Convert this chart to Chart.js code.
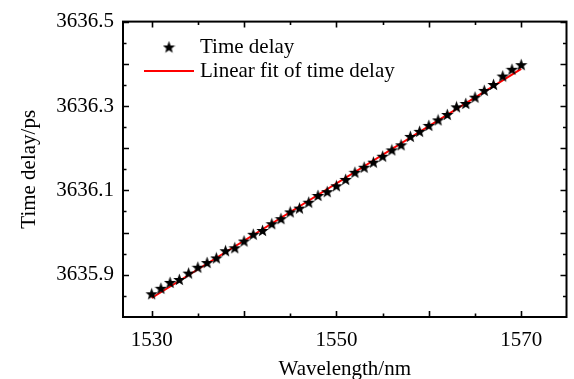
<!DOCTYPE html>
<html>
<head>
<meta charset="utf-8">
<script src="https://cdn.jsdelivr.net/npm/chart.js@4/dist/chart.umd.min.js"></script>
<style>
html,body{margin:0;padding:0;background:#fff;}
#wrap{width:574px;height:379px;position:relative;}
</style>
</head>
<body>
<div id="wrap"><canvas id="c" width="574" height="379"></canvas></div>
<script>
// ---- data ----
const wavelengths = [1530,1531,1532,1533,1534,1535,1536,1537,1538,1539,1540,1541,1542,1543,1544,1545,1546,1547,1548,1549,1550,1551,1552,1553,1554,1555,1556,1557,1558,1559,1560,1561,1562,1563,1564,1565,1566,1567,1568,1569,1570];
const timeDelay = [3635.855,3635.868,3635.882,3635.889,3635.904,3635.918,3635.929,3635.940,3635.957,3635.964,3635.980,3635.996,3636.005,3636.021,3636.033,3636.049,3636.058,3636.072,3636.088,3636.097,3636.111,3636.126,3636.143,3636.155,3636.167,3636.181,3636.196,3636.208,3636.228,3636.240,3636.254,3636.267,3636.280,3636.298,3636.306,3636.321,3636.337,3636.351,3636.371,3636.387,3636.398];
const fitWavelengths = [1530, 1570];
const fitDelay = [3635.845, 3636.388];
const xTickLabels = [1530, 1550, 1570];
const yTickLabels = [3635.9, 3636.1, 3636.3, 3636.5];
const xMajorTicks = [1530,1540,1550,1560,1570];
const xMinorTicks = [1535,1545,1555,1565];
const yMajorTicks = [3635.9,3636.0,3636.1,3636.2,3636.3,3636.4,3636.5];
const yMinorTicks = [3635.85,3635.95,3636.05,3636.15,3636.25,3636.35,3636.45];
const seriesLabels = ['Time delay', 'Linear fit of time delay'];

const FONT = 'Liberation Serif';

// filled five-pointed star marker
function makeStar(size, color) {
  const cv = document.createElement('canvas');
  cv.width = size; cv.height = size;
  const g = cv.getContext('2d');
  const cx = size/2, cy = size/2 + 0.6, R = size/2, r = R*0.42;
  g.beginPath();
  for (let i = 0; i < 10; i++) {
    const rad = i % 2 === 0 ? R : r;
    const a = -Math.PI/2 + i*Math.PI/5;
    const px = cx + rad*Math.cos(a), py = cy + rad*Math.sin(a);
    if (i === 0) g.moveTo(px, py); else g.lineTo(px, py);
  }
  g.closePath();
  g.fillStyle = color;
  g.fill();
  return cv;
}
const starImg = makeStar(13, '#000');

const frameAndTicks = {
  id: 'frameAndTicks',
  afterDraw(chart) {
    const ctx = chart.ctx, a = chart.chartArea;
    const xs = chart.scales.x, ys = chart.scales.y;
    ctx.save();
    ctx.strokeStyle = '#000';
    ctx.lineWidth = 1.6;
    const major = 6, minor = 3.5;
    ctx.beginPath();
    const xt = (v, len) => {
      const p = Math.round(xs.getPixelForValue(v)) + 0.5;
      ctx.moveTo(p, a.bottom); ctx.lineTo(p, a.bottom - len);
      ctx.moveTo(p, a.top); ctx.lineTo(p, a.top + len);
    };
    const yt = (v, len) => {
      const p = Math.round(ys.getPixelForValue(v)) + 0.5;
      ctx.moveTo(a.left, p); ctx.lineTo(a.left + len, p);
      ctx.moveTo(a.right, p); ctx.lineTo(a.right - len, p);
    };
    xMajorTicks.forEach(v => xt(v, major));
    xMinorTicks.forEach(v => xt(v, minor));
    yMajorTicks.forEach(v => yt(v, major));
    yMinorTicks.forEach(v => yt(v, minor));
    ctx.stroke();
    ctx.lineWidth = 2;
    ctx.strokeRect(a.left, a.top, a.right - a.left, a.bottom - a.top);

    // legend inside plot area
    ctx.font = '21px "' + FONT + '"';
    ctx.fillStyle = '#000';
    ctx.textBaseline = 'middle';
    ctx.textAlign = 'left';
    ctx.drawImage(starImg, 169 - 6.5, 47 - 6.5);
    ctx.fillText(seriesLabels[0], 200, 47);
    ctx.strokeStyle = '#ff0000';
    ctx.lineWidth = 2;
    ctx.beginPath(); ctx.moveTo(144, 71); ctx.lineTo(194, 71); ctx.stroke();
    ctx.fillText(seriesLabels[1], 200, 71);
    ctx.restore();
  }
};

new Chart(document.getElementById('c'), {
  type: 'scatter',
  data: {
    datasets: [
      {
        label: seriesLabels[0],
        data: wavelengths.map((w, i) => ({x: w, y: timeDelay[i]})),
        pointStyle: starImg,
        pointRadius: 6.5,
        showLine: false,
        order: 1
      },
      {
        label: seriesLabels[1],
        data: fitWavelengths.map((w, i) => ({x: w, y: fitDelay[i]})),
        showLine: true,
        borderColor: '#ff0000',
        borderWidth: 2,
        pointRadius: 0,
        order: 2
      }
    ]
  },
  options: {
    responsive: false,
    animation: false,
    devicePixelRatio: 1,
    layout: { padding: { top: 18, right: 2, left: 0, bottom: 0 } },
    plugins: { legend: { display: false }, tooltip: { enabled: false } },
    scales: {
      x: {
        type: 'linear',
        min: 1526.9, max: 1574.9,
        grid: { display: false, drawTicks: false },
        border: { display: false },
        afterBuildTicks: s => { s.ticks = xTickLabels.map(v => ({value: v})); },
        afterFit: s => { s.height = 62; },
        ticks: { color: '#000', font: { family: FONT, size: 21 }, padding: 11, maxRotation: 0, callback: v => String(v) },
        title: { display: true, text: 'Wavelength/nm', color: '#000', font: { family: FONT, size: 21 }, padding: { top: 0, bottom: -3 } }
      },
      y: {
        type: 'linear',
        min: 3635.8, max: 3636.5,
        grid: { display: false, drawTicks: false },
        border: { display: false },
        afterBuildTicks: s => { s.ticks = yTickLabels.map(v => ({value: v})); },
        afterFit: s => { s.width = 123; },
        ticks: { color: '#000', font: { family: FONT, size: 21 }, padding: 9, callback: v => v.toFixed(1) },
        title: { display: true, text: 'Time delay/ps', color: '#000', font: { family: FONT, size: 21 }, padding: { top: 17, bottom: 0 } }
      }
    }
  },
  plugins: [frameAndTicks]
});
</script>
</body>
</html>
